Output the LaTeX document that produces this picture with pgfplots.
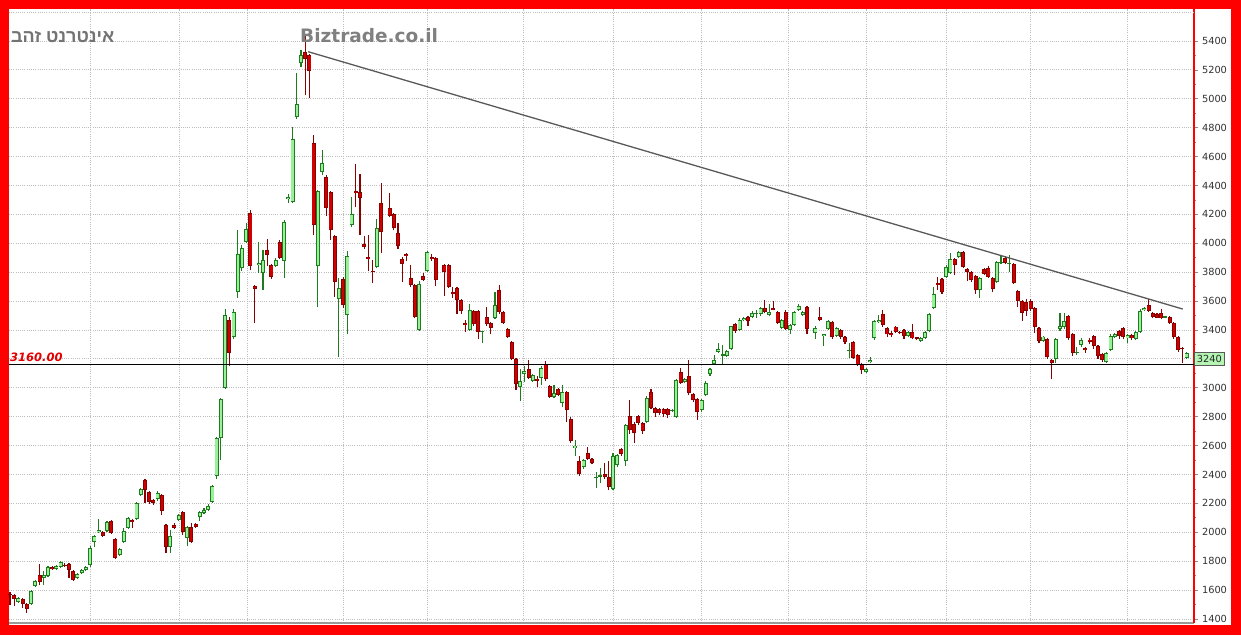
\documentclass[border=0pt]{standalone}
\usepackage{pgfplots}
\pgfplotsset{compat=1.18}
\usepackage{pgfplotstable}
\usepackage{fontspec}
\setmainfont{DejaVu Sans}
\newfontfamily\hebfont[Script=Hebrew]{Liberation Sans}
\TeXXeTstate=1

\definecolor{frame}{HTML}{FF0000}
\definecolor{gdark}{HTML}{1E7B1E}
\definecolor{gfill}{HTML}{98F098}
\definecolor{rdark}{HTML}{880000}
\definecolor{rfill}{HTML}{D00000}
\definecolor{gridc}{HTML}{BEBEBE}
\definecolor{boxg}{HTML}{B4F5B4}

\pgfplotsset{
  candle/.style={draw=none, forget plot, restrict y to domain=0:100000,
    error bars/.cd, y dir=plus, y explicit,
    draw error bar/.code 2 args={\draw ##1 -- ##2;}},
}

\pgfplotstableread{
d o h l c
0 1570 1590 1500 1565
1 1566 1575 1490 1538
2 1518 1550 1510 1545
3 1538 1545 1476 1504
4 1504 1510 1441 1469
5 1504 1600 1500 1594
6 1628 1670 1620 1663
7 1705 1780 1635 1656
8 1684 1730 1635 1705
9 1698 1767 1690 1760
10 1760 1770 1740 1746
11 1746 1775 1740 1767
12 1760 1801 1755 1794
13 1775 1790 1760 1772
14 1780 1790 1684 1739
15 1732 1740 1665 1670
16 1684 1718 1675 1711
17 1718 1746 1710 1739
18 1739 1767 1730 1760
19 1773 1905 1760 1891
20 1933 1982 1898 1975
21 2002 2092 1995 2016
22 2002 2009 1968 1975
23 2009 2078 2002 2071
24 2078 2085 1989 1995
25 1954 1961 1815 1822
26 1843 1891 1836 1884
27 1933 2030 1926 2009
28 2030 2106 2023 2099
29 2085 2092 2030 2071
30 2092 2210 2085 2203
31 2258 2307 2251 2300
32 2362 2370 2203 2293
33 2279 2286 2196 2210
34 2224 2231 2189 2203
35 2231 2286 2217 2272
36 2258 2265 2120 2148
37 2051 2058 1857 1898
38 1898 2016 1857 1975
39 2051 2065 2023 2030
40 2085 2127 2078 2120
41 2141 2148 1982 2002
42 1961 2044 1905 2037
43 2037 2065 1926 1933
44 2058 2065 2030 2037
45 2106 2148 2078 2141
46 2134 2168 2127 2154
47 2154 2196 2148 2182
48 2210 2327 2203 2320
49 2390 2660 2370 2653
50 2653 2930 2500 2922
51 3000 3545 2990 3503
52 3469 3490 3150 3241
53 3351 3545 3340 3524
54 3663 4092 3622 3926
55 3829 3990 3810 3968
56 4009 4141 4000 4099
57 4209 4230 3815 3843
58 3704 3710 3448 3684
59 3850 4009 3794 3862
60 3794 3953 3677 3884
61 3953 4030 3840 3919
62 3849 3860 3753 3767
63 3843 3900 3836 3884
64 4009 4023 3890 3898
65 3877 4160 3760 4148
66 4306 4340 4278 4320
67 4285 4805 4278 4722
68 4874 5178 4860 4964
69 5247 5337 5220 5302
70 5323 5441 5026 5275
71 5302 5310 5005 5192
72 4694 4749 4057 4126
73 3843 4370 3559 4362
74 4493 4645 4470 4555
75 4458 4470 4190 4244
76 4355 4362 4023 4092
77 4050 4057 3628 3732
78 3615 3760 3213 3691
79 3753 3767 3550 3573
80 3504 3950 3372 3912
81 4126 4320 4110 4202
82 4362 4548 4250 4348
83 4355 4479 4057 4313
84 3995 4050 3960 3974
85 3905 4057 3808 3891
86 3808 3884 3725 3801
87 3836 4170 3830 4106
88 4279 4417 3933 4078
90 4244 4348 4180 4189
91 4202 4210 4090 4106
92 4071 4141 3960 3981
93 3891 3905 3734 3856
94 3926 3935 3877 3912
95 3760 3850 3700 3712
96 3712 3720 3480 3490
97 3400 3740 3390 3718
98 3774 3795 3740 3746
99 3808 3950 3800 3939
100 3905 3925 3880 3891
101 3898 3905 3705 3746
103 3849 3860 3636 3801
104 3849 3856 3690 3697
105 3665 3700 3620 3647
106 3691 3700 3510 3607
107 3607 3615 3510 3531
108 3450 3470 3386 3432
109 3400 3580 3395 3538
110 3531 3540 3430 3441
111 3531 3540 3337 3386
112 3386 3395 3310 3390
113 3490 3560 3430 3441
114 3448 3455 3370 3413
115 3483 3660 3475 3573
116 3677 3710 3510 3524
117 3524 3530 3440 3448
118 3407 3415 3345 3351
119 3317 3325 3190 3199
120 3199 3205 2985 3026
121 3006 3130 2910 3047
122 3095 3150 3040 3116
123 3130 3192 3060 3068
124 3047 3095 3040 3088
125 3063 3082 3006 3047
126 3068 3150 3020 3137
127 3164 3185 3050 3061
128 3012 3020 2930 2936
129 2936 3020 2930 2964
130 2992 3000 2940 2950
131 2895 3020 2870 2971
132 2971 2980 2760 2846
133 2784 2800 2620 2632
134 2580 2640 2530 2600
135 2493 2530 2390 2403
136 2452 2510 2440 2500
137 2549 2590 2500 2507
138 2507 2515 2470 2479
139 2375 2420 2304 2385
140 2385 2445 2340 2396
141 2403 2480 2370 2385
142 2383 2490 2290 2313
143 2300 2550 2290 2528
144 2466 2545 2455 2535
145 2576 2585 2530 2542
146 2493 2750 2460 2742
147 2805 2915 2680 2708
148 2750 2760 2620 2687
149 2805 2815 2740 2756
150 2756 2765 2680 2701
151 2763 2940 2755 2930
152 2971 2995 2850 2860
153 2860 2870 2800 2826
154 2853 2860 2810 2826
155 2853 2860 2800 2818
156 2853 2860 2790 2812
157 2840 2850 2830 2845
158 2798 3060 2790 3054
159 3109 3140 3025 3033
160 3040 3070 3030 3060
161 3081 3192 2950 2964
162 2957 2965 2905 2915
163 2922 2930 2780 2832
164 2846 2925 2835 2915
165 2950 3050 2940 3033
166 3095 3140 3085 3130
167 3164 3230 3155 3192
168 3248 3310 3240 3268
169 3222 3296 3157 3232
170 3220 3260 3212 3254
171 3268 3430 3260 3427
172 3441 3448 3380 3393
173 3400 3480 3390 3469
174 3469 3490 3460 3483
175 3490 3500 3430 3462
176 3490 3530 3480 3517
177 3510 3540 3480 3515
178 3510 3560 3500 3552
179 3552 3610 3515 3524
180 3503 3580 3495 3524
181 3552 3600 3535 3538
182 3524 3530 3440 3448
183 3414 3475 3405 3469
184 3524 3535 3400 3407
185 3400 3440 3370 3434
186 3434 3530 3430 3524
187 3538 3580 3530 3566
188 3503 3530 3495 3524
189 3559 3565 3370 3407
191 3379 3430 3340 3414
192 3490 3560 3460 3470
193 3358 3375 3290 3372
194 3407 3470 3400 3462
195 3455 3460 3340 3351
196 3358 3420 3350 3414
197 3400 3410 3340 3351
198 3351 3358 3300 3317
199 3260 3310 3206 3262
200 3317 3325 3200 3206
201 3227 3235 3150 3157
202 3164 3175 3095 3123
203 3110 3140 3100 3130
204 3178 3210 3170 3192
205 3344 3470 3330 3462
206 3455 3503 3445 3469
207 3510 3540 3420 3434
208 3411 3420 3350 3370
209 3380 3390 3355 3365
210 3423 3430 3380 3388
211 3388 3395 3370 3377
212 3400 3410 3340 3358
213 3358 3395 3350 3388
214 3388 3440 3335 3342
215 3349 3355 3330 3338
216 3324 3350 3318 3346
217 3346 3395 3340 3388
218 3393 3520 3385 3510
219 3552 3700 3545 3649
220 3723 3770 3680 3711
221 3753 3760 3650 3663
222 3767 3850 3760 3836
223 3794 3930 3785 3891
224 3891 3900 3780 3849
225 3905 3945 3895 3940
226 3940 3950 3830 3836
227 3819 3830 3740 3803
228 3801 3810 3735 3746
229 3774 3780 3650 3677
230 3677 3770 3620 3760
231 3822 3830 3780 3787
232 3829 3840 3760 3767
233 3760 3770 3660 3684
234 3732 3880 3725 3870
235 3862 3914 3855 3873
236 3898 3910 3855 3863
237 3858 3919 3800 3862
238 3856 3865 3720 3725
239 3670 3680 3560 3601
240 3601 3610 3464 3517
241 3594 3615 3500 3531
242 3601 3615 3530 3545
243 3552 3560 3380 3420
244 3414 3420 3310 3324
245 3326 3360 3320 3354
246 3337 3345 3200 3213
247 3192 3200 3059 3171
248 3199 3345 3170 3337
249 3407 3515 3390 3428
250 3420 3515 3410 3462
251 3496 3505 3330 3344
252 3372 3380 3220 3241
253 3239 3280 3225 3250
254 3296 3345 3285 3331
255 3273 3285 3240 3261
256 3334 3345 3300 3319
257 3358 3365 3270 3289
258 3289 3295 3200 3220
259 3234 3240 3180 3192
260 3178 3250 3170 3241
261 3261 3370 3255 3358
262 3353 3380 3345 3370
263 3393 3400 3340 3358
264 3414 3420 3335 3351
265 3342 3370 3310 3365
266 3363 3370 3330 3342
267 3337 3395 3330 3386
268 3386 3545 3380 3531
269 3538 3560 3530 3550
270 3573 3614 3525 3531
271 3517 3525 3480 3490
272 3510 3520 3480 3485
273 3515 3545 3475 3481
274 3488 3500 3480 3492
275 3490 3500 3440 3448
276 3448 3455 3340 3351
277 3351 3358 3250 3261
278 3275 3280 3171 3268
279 3206 3250 3200 3241
}\candles

\begin{document}
\begin{tikzpicture}[x=1pt,y=1pt]
\fill[frame] (0,0) rectangle (1241,635);
\fill[white] (9,10) rectangle (1231,626);
\begin{axis}[
  at={(9pt,12pt)}, anchor=south west,
  scale only axis, width=1185pt, height=614pt,
  xmin=-0.24, xmax=280.77, ymin=1372.3, ymax=5621.5,
  clip=false,
  axis x line*=bottom, axis y line*=right,
  x axis line style={draw=black!40, line width=1.5pt, -},
  y axis line style={draw=frame, line width=1.6pt, -},
  xtick={18.97,40.08,56.2,78.97,99.1,121.65,143.2,163.9,184.5,203.2,221.96,242.1,265.1},
  xticklabels={},
  x tick style={draw=none},
  ytick={1400,1600,...,5400},
  yticklabels={1400,1600,1800,2000,2200,2400,2600,2800,3000,{},3400,3600,3800,4000,4200,4400,4600,4800,5000,5200,5400},
  extra y ticks={5600}, extra y tick labels={},
  extra y tick style={grid=major, major tick length=0pt},
  minor y tick num=1,
  grid=major,
  grid style={gridc, line width=0.9pt, dash pattern=on 1pt off 1.2pt},
  tick align=outside, major tick length=4pt, minor tick length=2pt,
  y tick style={black!45, line width=0.8pt},
  yticklabel style={font=\fontsize{9.8}{11}\selectfont, text=black!80, xshift=0.5pt},
]
% wicks
\addplot[candle, /pgfplots/error bars/error bar style={draw=gdark, line width=1.1pt}]
  table[x=d, y expr={\thisrow{c}>=\thisrow{o} ? \thisrow{l} : -99999},
        y error expr={\thisrow{h}-\thisrow{l}}] {\candles};
\addplot[candle, /pgfplots/error bars/error bar style={draw=rdark, line width=1.1pt}]
  table[x=d, y expr={\thisrow{c}<\thisrow{o} ? \thisrow{l} : -99999},
        y error expr={\thisrow{h}-\thisrow{l}}] {\candles};
% body outlines
\addplot[candle, /pgfplots/error bars/error bar style={draw=gdark, line width=4pt}]
  table[x=d, y expr={\thisrow{c}>=\thisrow{o} ? (\thisrow{o}+\thisrow{c})/2-max(abs(\thisrow{o}-\thisrow{c})/2,3.5) : -99999},
        y error expr={2*max(abs(\thisrow{o}-\thisrow{c})/2,3.5)}] {\candles};
\addplot[candle, /pgfplots/error bars/error bar style={draw=rdark, line width=4pt}]
  table[x=d, y expr={\thisrow{c}<\thisrow{o} ? (\thisrow{o}+\thisrow{c})/2-max(abs(\thisrow{o}-\thisrow{c})/2,3.5) : -99999},
        y error expr={2*max(abs(\thisrow{o}-\thisrow{c})/2,3.5)}] {\candles};
% body fills
\addplot[candle, /pgfplots/error bars/error bar style={draw=gfill, line width=2.3pt}]
  table[x=d, y expr={\thisrow{c}>=\thisrow{o} ? (\thisrow{o}+\thisrow{c})/2-max(abs(\thisrow{o}-\thisrow{c})/2-5.5,0) : -99999},
        y error expr={2*max(abs(\thisrow{o}-\thisrow{c})/2-5.5,0)}] {\candles};
\addplot[candle, /pgfplots/error bars/error bar style={draw=rfill, line width=2.3pt}]
  table[x=d, y expr={\thisrow{c}<\thisrow{o} ? (\thisrow{o}+\thisrow{c})/2-max(abs(\thisrow{o}-\thisrow{c})/2-5.5,0) : -99999},
        y error expr={2*max(abs(\thisrow{o}-\thisrow{c})/2-5.5,0)}] {\candles};
% support line and trend line
\addplot[black, line width=1pt, forget plot] coordinates {(-0.24,3160) (280.77,3160)};
\addplot[black!65, line width=1.3pt, forget plot] coordinates {(70.7,5326) (278.1,3545)};
\node[anchor=base west, text=frame!90!black, inner sep=0pt,
  font=\fontsize{11.5}{12}\selectfont\bfseries\itshape] at (axis cs:0,3185) {3160.00};
\node[anchor=west, fill=boxg, draw=black!65, line width=0.8pt, minimum width=30pt,
  minimum height=13pt, inner sep=0pt, font=\fontsize{9.8}{11}\selectfont, text=black!85]
  at (axis cs:280.77,3199) {3240};
\end{axis}
\node[anchor=base west, inner sep=0pt, text=black!50, font=\fontsize{18.5}{20}\selectfont\bfseries]
  at (300,592) {Biztrade.co.il};
\node[anchor=base west, inner sep=0pt, text=black!55, font=\hebfont\fontsize{18}{20}\selectfont\bfseries]
  at (11,592) {\beginR אינטרנט זהב\endR};
\pgfresetboundingbox
\path (0,0) rectangle (1241,635);
\end{tikzpicture}
\end{document}
